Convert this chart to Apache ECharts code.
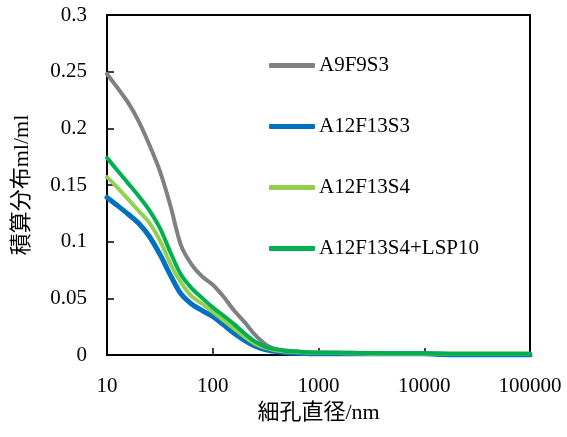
<!DOCTYPE html>
<html>
<head>
<meta charset="utf-8">
<script src="https://cdn.jsdelivr.net/npm/echarts@6/dist/echarts.min.js"></script>
<style>
  html, body { margin: 0; padding: 0; background: #fff; }
  #chart { width: 567px; height: 437px; }
</style>
</head>
<body>
<div id="chart"></div>
<script>
// Pore diameter (nm)
var diameters = [10, 12.5, 16, 20, 25, 32, 40, 50, 63, 80, 100, 125, 160, 200, 250, 320, 400, 500, 630, 800, 1000, 2000, 5000, 10000, 20000, 50000, 100000];
var seriesNames = ['A9F9S3', 'A12F13S3', 'A12F13S4', 'A12F13S4+LSP10'];
var a9f9s3 = [0.248, 0.236, 0.222, 0.206, 0.186, 0.161, 0.131, 0.097, 0.080, 0.069, 0.062, 0.052, 0.039, 0.029, 0.018, 0.009, 0.005, 0.004, 0.003, 0.0025, 0.0025, 0.002, 0.0015, 0.0015, 0.001, 0.001, 0.001];
var a12f13s3 = [0.139, 0.132, 0.124, 0.116, 0.105, 0.088, 0.070, 0.054, 0.045, 0.039, 0.034, 0.027, 0.019, 0.013, 0.008, 0.0045, 0.003, 0.002, 0.0015, 0.0012, 0.001, 0.001, 0.001, 0.001, 0.0, 0.0, 0.0];
var a12f13s4 = [0.157, 0.148, 0.137, 0.127, 0.117, 0.100, 0.080, 0.064, 0.052, 0.045, 0.038, 0.031, 0.023, 0.016, 0.010, 0.006, 0.004, 0.003, 0.0025, 0.002, 0.002, 0.0015, 0.001, 0.001, 0.001, 0.001, 0.001];
var a12f13s4lsp10 = [0.174, 0.163, 0.151, 0.140, 0.128, 0.111, 0.090, 0.071, 0.059, 0.050, 0.042, 0.035, 0.027, 0.019, 0.012, 0.007, 0.005, 0.0035, 0.003, 0.0025, 0.002, 0.002, 0.0015, 0.0015, 0.001, 0.001, 0.001];
var xTicks = [10, 100, 1000, 10000, 100000];
var yTicks = [0, 0.05, 0.1, 0.15, 0.2, 0.25, 0.3];

var colors = ['#808080', '#0070C0', '#92D050', '#00B050'];
var widths = [4, 5, 4, 4];
var values = [a9f9s3, a12f13s3, a12f13s4, a12f13s4lsp10];
var fontFam = "'Liberation Serif', 'Noto Sans CJK JP', serif";

function pairs(ys) { return diameters.map(function (d, i) { return [d, ys[i]]; }); }

var chart = echarts.init(document.getElementById('chart'), null, { renderer: 'canvas' });
chart.setOption({
  animation: false,
  backgroundColor: '#fff',
  grid: { left: 107, right: 37, top: 15, bottom: 82, show: true, borderColor: '#000', borderWidth: 2,
    backgroundColor: 'transparent', containLabel: false, outerBoundsMode: 'none' },
  legend: {
    orient: 'vertical', left: 264, top: 50, itemWidth: 46, itemHeight: 5, itemGap: 40,
    icon: 'roundRect',
    data: seriesNames,
    textStyle: { fontFamily: fontFam, fontSize: 21, color: '#000', padding: [0, 0, 0, -1] }
  },
  xAxis: {
    type: 'log', logBase: 10, min: xTicks[0], max: xTicks[xTicks.length - 1],
    name: '細孔直径/nm', nameLocation: 'middle', nameGap: 47,
    nameTextStyle: { fontFamily: fontFam, fontSize: 22, color: '#000' },
    axisLine: { show: true, lineStyle: { color: '#000', width: 2 } },
    axisTick: { show: true, inside: true, length: 7, lineStyle: { color: '#000', width: 1.5 } },
    minorTick: { show: false },
    splitLine: { show: false },
    axisLabel: { fontFamily: fontFam, fontSize: 21, color: '#000', margin: 21,
      formatter: function (v) { return String(Math.round(v)); } }
  },
  yAxis: {
    type: 'value', min: yTicks[0], max: yTicks[yTicks.length - 1], interval: 0.05,
    name: '積算分布ml/ml', nameLocation: 'middle', nameGap: 74, nameRotate: 90,
    nameTextStyle: { fontFamily: fontFam, fontSize: 22, color: '#000' },
    axisLine: { show: true, lineStyle: { color: '#000', width: 2 } },
    axisTick: { show: true, inside: true, length: 7, lineStyle: { color: '#000', width: 1.5 } },
    splitLine: { show: false },
    axisLabel: { fontFamily: fontFam, fontSize: 21, color: '#000', margin: 20,
      formatter: function (v) { return String(parseFloat(v.toFixed(2))); } }
  },
  series: seriesNames.map(function (n, i) {
    return {
      name: n, type: 'line', data: pairs(values[i]), smooth: 0.3,
      showSymbol: false, symbol: 'none',
      itemStyle: { color: colors[i] },
      lineStyle: { color: colors[i], width: widths[i], cap: 'round', join: 'round' },
      z: 2 + i
    };
  })
});
</script>
</body>
</html>
